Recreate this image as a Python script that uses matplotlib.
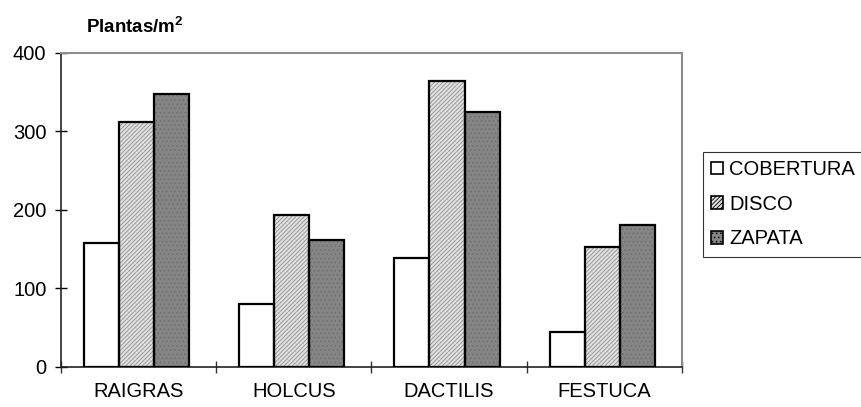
import matplotlib
matplotlib.use('Agg')
import matplotlib.pyplot as plt
import numpy as np
from matplotlib.patches import Patch

plt.rcParams['font.family'] = ['Liberation Sans', 'DejaVu Sans']
plt.rcParams['mathtext.fontset'] = 'custom'
plt.rcParams['mathtext.rm'] = 'Liberation Sans'
plt.rcParams['mathtext.bf'] = 'Liberation Sans:bold'

categories = ['RAIGRAS', 'HOLCUS', 'DACTILIS', 'FESTUCA']
series_names = ['COBERTURA', 'DISCO', 'ZAPATA']
cobertura = [157, 80, 138, 44]
disco = [312, 193, 364, 152]
zapata = [348, 161, 325, 180]
yticks = [0, 100, 200, 300, 400]

# look of each series: face, hatch, hatch colour
styles = [
    ('white', None, None),
    ('#e0e0e0', '////////', '#8f8f8f'),
    ('#858585', '....', '#6e6e6e'),
]

fig = plt.figure(figsize=(8.61, 4.07), dpi=100)
ax = fig.add_axes([0.0708, 0.099, 0.7212, 0.7715])

x = np.arange(len(categories))
w = 0.226
plt.rcParams['hatch.linewidth'] = 0.6
for k, vals in enumerate([cobertura, disco, zapata]):
    face, hatch, hcol = styles[k]
    pos = x + (k - 1) * w - 0.013
    if hatch:
        ax.bar(pos, vals, w, color=face, hatch=hatch, edgecolor=hcol, linewidth=0, zorder=2)
    else:
        ax.bar(pos, vals, w, color=face, linewidth=0, zorder=2)
    ax.bar(pos, vals, w, facecolor='none', edgecolor='black', linewidth=1.6, zorder=3)

ax.set_xlim(-0.5, 3.5)
ax.set_ylim(0, 400)
ax.set_yticks(yticks)
ax.set_xticks(x)
ax.set_xticklabels(categories)
ax.set_xticks(np.arange(-0.5, 4, 1), minor=True)
ax.tick_params(axis='x', which='major', length=0, pad=11, labelsize=14.5)
ax.tick_params(axis='x', which='minor', direction='inout', length=9, width=1, color='#333333')
ax.tick_params(axis='y', direction='inout', length=9, width=1, pad=6, labelsize=14.5)

for s in ['left', 'bottom']:
    ax.spines[s].set_color('#222222')
    ax.spines[s].set_linewidth(1.2)
for s in ['top', 'right']:
    ax.spines[s].set_color('#8c8c8c')
    ax.spines[s].set_linewidth(1.5)

fig.text(0.1, 0.919, r'Plantas/m$^\mathbf{2}$', fontsize=13.5, fontweight='bold', va='baseline')

handles = []
for face, hatch, hcol in styles:
    handles.append(Patch(facecolor=face, hatch=hatch, edgecolor='black', linewidth=1.2))
leg = fig.legend(handles, series_names, loc='upper left', bbox_to_anchor=(0.8165, 0.6265),
                 fontsize=14.5, frameon=True, fancybox=False, edgecolor='black',
                 handlelength=0.6, handleheight=0.6, handletextpad=0.3,
                 labelspacing=0.78, borderpad=0.4, borderaxespad=0)
leg.get_frame().set_linewidth(0.8)

fig.savefig('out.png', dpi=100)
